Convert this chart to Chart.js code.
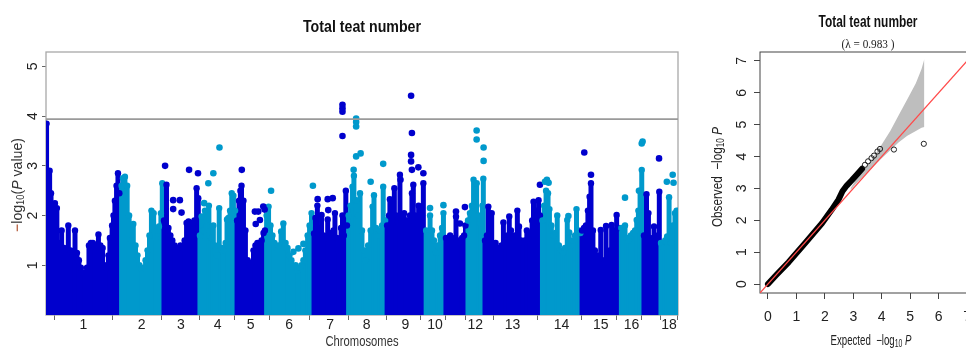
<!DOCTYPE html>
<html><head><meta charset="utf-8">
<script src="https://cdn.jsdelivr.net/npm/chart.js@4/dist/chart.umd.min.js"></script>
<style>
html,body{margin:0;padding:0;background:#fff;overflow:hidden;width:966px;height:349px;position:relative;}
#m{position:absolute;left:0;top:0;}
#q{position:absolute;left:700px;top:0;}
</style></head><body>
<canvas id="m" width="700" height="349"></canvas>
<canvas id="q" width="290" height="349"></canvas>
<script>
// ---------------- DATA ----------------
const chrNames = ['1','2','3','4','5','6','7','8','9','10','11','12','13','14','15','16','17','18'];
const chrLengths = [268,150,131,132,105,172,122,139,140,72,78,60,208,142,140,81,62,64]; // Mb
const chrTickLabels = ['1','2','3','4','5','6','7','8','9','10','','12','13','14','15','16','','18'];
const chrColors = ['#0000CD', '#0099CC'];
const manhattanYTicks = [1, 2, 3, 4, 5];
const manhattanYMax = 5.29;
const threshold = 3.94;

// dense SNP mass: [chromosome, position (Mb), top of the dense column (-log10 P)]
const massColumns = [
 [1,2,3.85],[1,13,2.9],[1,18,2.45],[1,25,1.75],[1,32,2.25],[1,39,2.15],[1,47,1.45],[1,56,1.7],[1,65,1.35],[1,72,1.2],[1,80,1.8],[1,88,1.3],[1,97,1.15],[1,104,1.7],[1,111,1.25],[1,118,1.1],[1,125,0.95],[1,133,0.85],[1,140,0.85],[1,147,0.95],[1,154,1.4],[1,161,1.45],[1,168,1.45],[1,176,1.35],[1,183,1.4],[1,188,1.62],[1,195,1.4],[1,203,1.35],[1,210,1.0],[1,217,0.95],[1,224,1.2],[1,229,1.55],[1,237,1.8],[1,242,2.0],[1,247,2.3],[1,253,2.6],[1,258,2.85],[1,263,2.45],
 [2,3,2.6],[2,8,2.75],[2,15,2.78],[2,23,2.6],[2,30,2.0],[2,37,1.5],[2,45,1.83],[2,53,1.4],[2,60,1.2],[2,67,1.0],[2,75,0.93],[2,82,0.95],[2,89,1.1],[2,96,1.3],[2,103,1.6],[2,110,2.1],[2,118,2.05],[2,125,1.55],[2,132,1.7],[2,137,1.78],[2,144,2.05],[2,149,2.65],
 [3,5,1.9],[3,14,2.62],[3,21,1.75],[3,28,1.6],[3,35,1.5],[3,43,1.4],[3,50,1.3],[3,57,1.35],[3,64,1.4],[3,71,1.35],[3,79,1.5],[3,86,1.85],[3,93,1.88],[3,100,1.8],[3,107,1.85],[3,114,1.9],[3,122,2.55],[3,128,2.35],
 [4,3,1.6],[4,9,1.98],[4,16,1.7],[4,21,2.1],[4,28,1.8],[4,35,2.2],[4,43,1.55],[4,51,1.8],[4,57,1.4],[4,64,1.2],[4,72,2.15],[4,80,1.35],[4,87,1.3],[4,95,1.45],[4,100,1.92],[4,105,1.95],[4,111,2.1],[4,117,2.45],[4,123,2.4],[4,129,2.1],
 [5,4,1.9],[5,11,2.3],[5,16,2.5],[5,20,2.6],[5,27,2.3],[5,34,1.7],[5,42,1.1],[5,49,1.0],[5,56,1.05],[5,63,1.3],[5,70,1.4],[5,77,1.45],[5,85,1.4],[5,92,1.5],[5,99,1.65],[5,104,1.7],
 [6,5,2.0],[6,12,2.18],[6,19,1.8],[6,26,1.6],[6,33,1.45],[6,41,1.35],[6,48,1.4],[6,57,1.68],[6,65,1.84],[6,73,1.45],[6,80,1.35],[6,87,1.2],[6,94,1.1],[6,101,0.95],[6,109,1.0],[6,116,0.9],[6,123,0.95],[6,130,1.0],[6,137,1.1],[6,144,1.3],[6,152,1.6],[6,159,1.8],[6,166,2.05],
 [7,3,1.64],[7,8,1.95],[7,15,2.2],[7,23,1.75],[7,30,2.01],[7,37,1.6],[7,44,1.55],[7,52,1.92],[7,58,1.65],[7,66,1.6],[7,73,1.7],[7,78,2.05],[7,85,1.55],[7,92,1.3],[7,100,1.75],[7,105,2.0],[7,110,1.6],[7,117,2.5],[7,121,1.8],
 [8,5,2.0],[8,12,2.2],[8,19,2.58],[8,24,2.8],[8,32,2.31],[8,39,2.0],[8,46,2.45],[8,53,1.7],[8,60,1.3],[8,67,1.1],[8,75,1.4],[8,84,1.7],[8,91,2.18],[8,96,2.41],[8,103,1.75],[8,110,1.6],[8,118,1.7],[8,125,1.8],[8,129,2.58],[8,136,1.9],
 [9,4,1.8],[9,11,2.0],[9,14,2.33],[9,22,1.9],[9,30,2.55],[9,36,2.0],[9,43,1.85],[9,50,2.82],[9,57,1.9],[9,65,2.05],[9,72,1.9],[9,79,1.85],[9,86,2.0],[9,93,2.45],[9,98,2.62],[9,104,2.0],[9,111,1.95],[9,117,2.2],[9,122,1.85],[9,129,2.0],[9,134,2.65],
 [10,4,1.7],[10,11,1.6],[10,18,2.0],[10,25,1.7],[10,32,1.5],[10,39,1.25],[10,47,1.4],[10,54,1.6],[10,61,1.75],[10,66,2.05],
 [11,3,1.55],[11,10,1.5],[11,18,1.6],[11,25,1.55],[11,32,1.35],[11,39,1.98],[11,46,1.5],[11,53,1.45],[11,61,1.55],[11,68,1.6],[11,73,1.8],
 [12,4,1.9],[12,11,2.05],[12,18,2.2],[12,24,2.72],[12,29,2.38],[12,35,2.65],[12,42,2.0],[12,49,1.85],[12,56,2.2],[12,59,2.74],
 [13,5,1.5],[13,12,1.6],[13,17,2.18],[13,23,1.74],[13,29,2.05],[13,35,1.4],[13,43,1.45],[13,50,1.35],[13,57,1.3],[13,64,1.4],[13,71,1.86],[13,79,1.45],[13,86,1.6],[13,92,1.98],[13,98,1.7],[13,105,1.55],[13,113,1.6],[13,121,2.1],[13,127,1.78],[13,134,1.5],[13,141,1.45],[13,148,1.5],[13,155,1.7],[13,161,1.55],[13,168,1.65],[13,174,1.9],[13,179,2.28],[13,186,2.05],[13,191,2.1],[13,197,2.31],[13,202,2.0],
 [14,3,1.9],[14,9,2.2],[14,16,2.5],[14,23,2.45],[14,28,2.13],[14,35,1.8],[14,43,1.6],[14,50,1.65],[14,56,2.0],[14,62,1.4],[14,70,1.3],[14,77,1.25],[14,84,1.35],[14,92,1.91],[14,99,1.66],[14,105,1.4],[14,113,1.5],[14,120,1.6],[14,125,2.13],[14,132,1.7],[14,139,1.65],
 [15,3,1.7],[15,10,1.75],[15,17,1.8],[15,24,2.1],[15,30,2.38],[15,35,2.65],[15,42,1.7],[15,49,1.3],[15,57,1.2],[15,64,1.15],[15,70,1.71],[15,76,1.1],[15,84,1.05],[15,89,1.79],[15,96,1.2],[15,103,1.3],[15,109,1.81],[15,116,1.55],[15,121,1.7],[15,127,2.01],[15,134,1.75],
 [16,4,1.75],[16,11,1.65],[16,17,1.8],[16,24,1.55],[16,31,1.5],[16,38,1.6],[16,46,1.65],[16,53,1.7],[16,59,1.91],[16,65,2.1],[16,71,2.5],[16,77,2.92],
 [17,4,1.6],[17,13,2.43],[17,20,2.05],[17,26,1.55],[17,33,1.5],[17,40,1.78],[17,47,1.5],[17,54,1.6],[17,59,2.48],
 [18,3,1.45],[18,10,1.35],[18,18,1.5],[18,25,1.58],[18,32,2.37],[18,39,1.45],[18,46,1.8],[18,53,2.05],[18,59,2.1],[18,62,1.9]
];

// isolated SNPs above the dense mass: [chromosome, position (Mb), -log10 P]
const peakPoints = [
 [3,9,3.0],[3,38,2.31],[3,38,2.13],[3,62,2.31],[3,68,2.06],[3,95,2.92],[3,127,2.85],
 [4,18,2.25],[4,33,2.65],[4,51,2.85],[4,73,3.37],
 [5,21,2.92],[5,68,2.08],[5,80,2.08],[5,71,1.83],[5,98,2.18],[5,103,2.12],[5,86,1.91],
 [6,21,2.5],[6,101,1.27],[6,119,1.34],[6,137,1.43],[6,171,2.6],
 [7,16,2.33],[7,52,2.33],[7,70,2.35],[7,54,2.11],[7,105,4.23],[7,105,4.16],[7,105,4.09],[7,105,3.6],
 [8,32,3.95],[8,32,3.88],[8,32,3.79],[8,32,3.19],[8,48,3.25],[8,23,2.92],[8,84,2.68],[8,129,3.04],
 [9,90,4.41],[9,93,3.66],[9,90,3.22],[9,90,3.09],[9,93,2.92],[9,116,2.97],[9,134,2.85],[9,52,2.72],
 [10,18,2.15],[10,66,2.21],
 [11,39,2.08],[11,71,2.17],[11,53,1.84],
 [12,35,3.71],[12,35,3.53],[12,60,3.37],[12,60,3.1],
 [13,202,2.62],
 [14,12,2.68],[14,19,2.72],[14,25,2.66],[14,96,1.99],
 [15,11,3.27],[15,35,2.82],
 [16,17,2.36],[16,77,3.45],[16,80,3.49],[16,67,2.5],
 [17,58,3.15],
 [18,24,2.68],[18,45,2.82],[18,48,2.66]
];

// QQ plot
const qqRange = [-0.28, 7.28];
const qqTicks = [0, 1, 2, 3, 4, 5, 6, 7];
const qqExpected = [0, 0.3, 0.73, 1.31, 1.9, 2.24, 2.48, 2.62, 2.77, 2.94, 3.17, 3.31];
const qqObserved = [0, 0.29, 0.69, 1.29, 1.91, 2.33, 2.65, 2.91, 3.09, 3.25, 3.48, 3.62];
const qqTailExpected = [3.41, 3.52, 3.64, 3.73, 3.85, 3.94, 4.43, 5.48];
const qqTailObserved = [3.74, 3.85, 3.95, 4.03, 4.16, 4.24, 4.22, 4.4];
const ciExpected = [2.9, 3.1, 3.4, 3.7, 4.0, 4.3, 4.6, 4.9, 5.2, 5.4, 5.5];
const ciUpper = [3.0, 3.28, 3.62, 3.98, 4.38, 4.8, 5.3, 5.8, 6.3, 6.75, 7.06];
const ciLower = [2.95, 3.15, 3.42, 3.68, 3.95, 4.2, 4.45, 4.65, 4.8, 4.9, 4.93];
const lambdaValue = '0.983';

// ---------------- BUILD ----------------
const offsets = [];
let acc = 0;
chrLengths.forEach(l => { offsets.push(acc); acc += l; });
const genomeTotal = acc;
const chrMid = chrLengths.map((l, i) => offsets[i] + l / 2);
const colorOf = c => chrColors[(c - 1) % 2];

const massData = massColumns.map(([c, p, v]) => ({ x: offsets[c - 1] + p, y: v }));
const massColors = massColumns.map(([c]) => colorOf(c));
const peakData = peakPoints.map(([c, p, v]) => ({ x: offsets[c - 1] + p, y: v }));
const peakColors = peakPoints.map(([c]) => colorOf(c));

const SANS = "'Liberation Sans', Arial, sans-serif";
const NARROW = "'Liberation Sans Narrow', 'Liberation Sans', Arial, sans-serif";

function drawRich(ctx, segs, cx, cy, target, rot) {
  ctx.save();
  let w = 0;
  segs.forEach(s => { ctx.font = s.f; s.w = ctx.measureText(s.t).width; w += s.w; });
  ctx.translate(cx, cy);
  if (rot) ctx.rotate(rot);
  ctx.scale(target ? target / w : 1, 1);
  ctx.textBaseline = 'middle';
  ctx.textAlign = 'left';
  let x = -w / 2;
  segs.forEach(s => { ctx.font = s.f; ctx.fillStyle = s.c; ctx.fillText(s.t, x, s.dy || 0); x += s.w; });
  ctx.restore();
}

const boxPlugin = {
  id: 'box',
  beforeDatasetsDraw(chart, args, opts) {
    const { ctx, chartArea: a } = chart;
    ctx.save();
    ctx.strokeStyle = opts.color;
    ctx.lineWidth = opts.width;
    ctx.strokeRect(a.left, a.top, a.right - a.left, a.bottom - a.top);
    ctx.restore();
  }
};
const textPlugin = {
  id: 'texts',
  afterDraw(chart, args, opts) {
    opts.items.forEach(it => drawRich(chart.ctx, it.segs, it.x, it.y, it.w, it.rot));
  }
};

const tickFont = { family: NARROW, size: 14, lineHeight: 1 };

// ---------------- MANHATTAN ----------------
new Chart(document.getElementById('m'), {
  type: 'scatter',
  data: {
    datasets: [
      { type: 'line', data: [{ x: 0, y: threshold }, { x: genomeTotal, y: threshold }],
        borderColor: '#9a9a9a', borderWidth: 1.6, pointRadius: 0, order: 1 },
      { type: 'scatter', data: peakData, pointBackgroundColor: peakColors, pointBorderWidth: 0,
        pointRadius: 3.3, order: 2 },
      { type: 'scatter', data: massData, pointBackgroundColor: massColors, pointBorderWidth: 0,
        pointRadius: 3.2, order: 3 },
      { type: 'bar', data: massData, backgroundColor: massColors, barThickness: 5,
        borderRadius: 0, borderSkipped: 'start', inflateAmount: 0, order: 4 }
    ]
  },
  options: {
    responsive: false, animation: false, devicePixelRatio: 1,
    layout: { padding: { left: 0, right: 22, top: 52, bottom: 0 } },
    plugins: {
      legend: { display: false }, tooltip: { enabled: false },
      box: { color: '#a8a8a8', width: 1.3 },
      texts: { items: [
        { x: 362, y: 27, w: 118, segs: [{ t: 'Total teat number', f: `bold 17px ${SANS}`, c: '#111' }] },
        { x: 362, y: 342, w: 73, segs: [{ t: 'Chromosomes', f: `15px ${SANS}`, c: '#333' }] },
        { x: 18, y: 185, w: 94, rot: -Math.PI / 2, segs: [
          { t: '−', f: `15px ${SANS}`, c: '#A8401A' },
          { t: 'log', f: `15px ${SANS}`, c: '#333' },
          { t: '10', f: `10px ${SANS}`, c: '#333', dy: 3 },
          { t: '(', f: `15px ${SANS}`, c: '#333' },
          { t: 'P', f: `italic 15px ${SANS}`, c: '#333' },
          { t: ' value)', f: `15px ${SANS}`, c: '#333' }
        ] }
      ] }
    },
    scales: {
      x: {
        type: 'linear', min: 0, max: genomeTotal, offset: false,
        afterBuildTicks: s => { s.ticks = chrMid.map(v => ({ value: v })); },
        afterFit: s => { s.height = 34; },
        ticks: { autoSkip: false, minRotation: 0, maxRotation: 0, padding: -2, font: tickFont, color: '#222',
          callback: (v, i) => chrTickLabels[i] },
        grid: { display: true, drawOnChartArea: false, drawTicks: true, tickLength: 5, color: '#666' },
        border: { display: false }
      },
      y: {
        type: 'linear', min: 0, max: manhattanYMax,
        afterBuildTicks: s => { s.ticks = manhattanYTicks.map(v => ({ value: v })); },
        afterFit: s => { s.width = 46; },
        ticks: { minRotation: 90, maxRotation: 90, crossAlign: 'center', padding: 5, font: tickFont, color: '#222' },
        grid: { display: true, drawOnChartArea: false, drawTicks: true, tickLength: 4, color: '#666' },
        border: { display: false }
      }
    }
  },
  plugins: [boxPlugin, textPlugin]
});

// ---------------- QQ ----------------
const toPts = (xs, ys) => xs.map((x, i) => ({ x, y: ys[i] }));
new Chart(document.getElementById('q'), {
  type: 'scatter',
  data: {
    datasets: [
      { type: 'line', data: toPts(ciExpected, ciUpper), fill: '+1', backgroundColor: '#bebebe',
        borderWidth: 0, pointRadius: 0, order: 6 },
      { type: 'line', data: toPts(ciExpected, ciLower), fill: false, borderWidth: 0, pointRadius: 0, order: 5 },
      { type: 'line', data: toPts(qqExpected, qqObserved), borderColor: '#000', borderWidth: 6,
        borderCapStyle: 'round', borderJoinStyle: 'round', pointRadius: 0, order: 3 },
      { type: 'scatter', data: toPts(qqTailExpected, qqTailObserved), pointRadius: 2.6,
        pointBorderWidth: 1, pointBorderColor: '#222', pointBackgroundColor: 'rgba(0,0,0,0)', order: 2 },
      { type: 'line', data: toPts(qqRange, qqRange), borderColor: '#ff4a4a', borderWidth: 1.2,
        pointRadius: 0, order: 1 }
    ]
  },
  options: {
    responsive: false, animation: false, devicePixelRatio: 1,
    layout: { padding: { left: 0, right: 15, top: 52, bottom: 0 } },
    plugins: {
      legend: { display: false }, tooltip: { enabled: false },
      box: { color: '#444', width: 1 },
      texts: { items: [
        { x: 168, y: 23, w: 99, segs: [{ t: 'Total teat number', f: `bold 16px ${SANS}`, c: '#111' }] },
        { x: 168, y: 45, w: 53, segs: [{ t: '(λ = ' + lambdaValue + ' )', f: `12px 'Liberation Serif', serif`, c: '#222' }] },
        { x: 171, y: 341, w: 81, segs: [
          { t: 'Expected  −log', f: `14px ${SANS}`, c: '#222' },
          { t: '10', f: `10px ${SANS}`, c: '#222', dy: 3 },
          { t: ' ', f: `14px ${SANS}`, c: '#222' },
          { t: 'P', f: `italic 14px ${SANS}`, c: '#222' }
        ] },
        { x: 18, y: 177, w: 100, rot: -Math.PI / 2, segs: [
          { t: 'Observed  −log', f: `14px ${SANS}`, c: '#222' },
          { t: '10', f: `10px ${SANS}`, c: '#222', dy: 3 },
          { t: ' ', f: `14px ${SANS}`, c: '#222' },
          { t: 'P', f: `italic 14px ${SANS}`, c: '#222' }
        ] }
      ] }
    },
    scales: {
      x: {
        type: 'linear', min: qqRange[0], max: qqRange[1],
        afterBuildTicks: s => { s.ticks = qqTicks.map(v => ({ value: v })); },
        afterFit: s => { s.height = 56; },
        ticks: { autoSkip: false, minRotation: 0, maxRotation: 0, padding: 11, font: tickFont, color: '#222' },
        grid: { display: true, drawOnChartArea: false, drawTicks: true, tickLength: 6, color: '#444' },
        border: { display: false }
      },
      y: {
        type: 'linear', min: qqRange[0], max: qqRange[1],
        afterBuildTicks: s => { s.ticks = qqTicks.map(v => ({ value: v })); },
        afterFit: s => { s.width = 60; },
        ticks: { minRotation: 90, maxRotation: 90, crossAlign: 'center', padding: 8, font: tickFont, color: '#222' },
        grid: { display: true, drawOnChartArea: false, drawTicks: true, tickLength: 6, color: '#444' },
        border: { display: false }
      }
    }
  },
  plugins: [boxPlugin, textPlugin]
});
</script>
</body></html>
